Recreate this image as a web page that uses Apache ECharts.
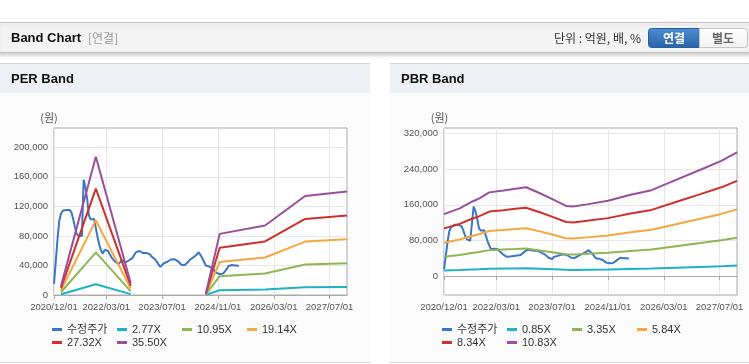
<!DOCTYPE html>
<html><head><meta charset="utf-8">
<script src="https://cdn.jsdelivr.net/npm/echarts@6/dist/echarts.min.js"></script>
<style>html,body{margin:0;padding:0;background:#fff}#c{width:749px;height:364px}</style>
</head><body><div id="c"></div>
<script>
const FONT = "'Liberation Sans','Noto Sans CJK KR',sans-serif";
const KFONT = "'Noto Sans CJK KR','Liberation Sans',sans-serif";

// x axis: semi-monthly categories from 2020/12 to 2027/12
const startYear = 2020, startMonth = 12, totalMonths = 84;
const tickLabels = ['2020/12/01','2022/03/01','2023/07/01','2024/11/01','2026/03/01','2027/07/01'];
const perTicks = [0, 40000, 80000, 120000, 160000, 200000];
const pbrTicks = [0, 80000, 160000, 240000, 320000];

const priceName = '수정주가';
const perNames = ['2.77X','10.95X','19.14X','27.32X','35.50X'];
const pbrNames = ['0.85X','3.35X','5.84X','8.34X','10.83X'];

// adjusted price, every half month from 2020/12/01
const price = [15000,45000,75000,100000,110000,114000,115000,115000,115000,115000,
 112000,103000,92000,83000,80000,79000,80000,156000,146000,130000,
 108000,102000,101000,103000,103000,78000,68000,60000,56000,61000,
 63000,60000,55000,51000,48000,45000,43000,42000,44000,47000,
 45000,44000,46000,47000,47000,50000,54000,58000,59000,59500,
 58000,57000,56500,57000,56500,55000,52000,50000,48000,45000,
 41000,38000,38000,43000,45000,45000,46000,48000,49000,48500,
 47000,46000,44000,41000,40000,40500,41000,45000,48000,49000,
 51000,53000,55000,58000,57000,50000,45000,40000,39000,38500,
 38000,36000,33000,30000,29000,28500,28000,29000,32000,35000,
 39000,41000,40500,40000,40000,40000,39500];

// PER band vertices (null = break)
const perBandDates = ['2021/02/01','2021/12/01','2022/10/01','2023/06/01','2024/07/16','2024/11/16','2025/12/16','2026/12/01','2027/12/01'];
const per277  = [900, 14600, 1200, null, 100, 6500, 7400, 10500, 10900];
const per1095 = [3700, 57700, 4900, null, 500, 25500, 29000, 41300, 43100];
const per1914 = [6500, 101000, 8600, null, 800, 44600, 50800, 72300, 75400];
const per2732 = [9300, 144000, 12300, null, 1200, 64000, 72500, 103000, 107600];
const per3550 = [12000, 187000, 16000, null, 1500, 82700, 94000, 134000, 140000];

// PBR band vertices
const pbrBandDates = ['2020/12/01','2021/04/16','2021/08/01','2021/10/01','2022/01/01','2022/05/01','2022/08/16','2022/11/16','2023/03/16','2023/07/16','2023/11/01','2024/01/01','2024/05/01','2024/11/01','2025/05/16','2025/11/16','2026/06/16','2027/01/16','2027/07/16','2027/12/01'];
const pbr085  = [12400,13400,14600,15200,16300,16600,16900,17200,16100,14900,13900,13700,14100,14800,15800,16700,18500,20300,21800,23300];
const pbr335  = [43000,47000,51700,53800,58100,59400,60600,61700,57500,52900,48700,48300,49800,52300,56400,59700,66800,73900,80100,86000];
const pbr584  = [74900,81900,90000,93800,101300,103500,105600,107500,100300,92200,84900,84100,86800,91100,98400,104000,116400,128800,139600,149800];
const pbr834  = [107000,117000,128600,134000,144800,147800,151000,153600,143200,131700,121300,120100,124000,130100,140500,148600,166300,184000,199400,214000];
const pbr1083 = [139000,152000,167000,174000,188000,192000,196000,199500,186000,171000,157500,156000,161000,169000,182500,193000,216000,239000,259000,278000];

const priceColor = '#3a76c6';
const bandColors = ['#1fb1c6','#8fb654','#f2a83c','#cf302c','#994f9d'];

const categories = [];
for (let m = 0; m <= totalMonths; m++) {
  const y = startYear + Math.floor((startMonth - 1 + m) / 12);
  const mo = (startMonth - 1 + m) % 12 + 1;
  const ym = y + '/' + String(mo).padStart(2, '0');
  categories.push(ym + '/01');
  if (m < totalMonths) categories.push(ym + '/16');
}
const isTick = (i, v) => tickLabels.indexOf(v) >= 0;

function xAxisOpt(gi) {
  return {
    type: 'category', gridIndex: gi, data: categories, boundaryGap: false,
    axisLine: { show: true, lineStyle: { color: '#aaaaaa' } },
    axisTick: { show: true, interval: isTick, length: 4, lineStyle: { color: '#aaaaaa' } },
    axisLabel: { interval: isTick, color: '#555', fontSize: 9.5, fontFamily: FONT, margin: 8 },
    splitLine: { show: true, interval: isTick, lineStyle: { color: '#e6e6e6' } }
  };
}
function yAxisOpt(gi, min, max, ticks) {
  return {
    type: 'value', gridIndex: gi, min: min, max: max,
    axisLine: { show: false },
    axisTick: { show: false, customValues: ticks },
    axisLabel: { customValues: ticks, color: '#555', fontSize: 9.5, fontFamily: FONT, margin: 6 },
    splitLine: { show: true, lineStyle: { color: '#e6e6e6' } }
  };
}

const series = [];
function addChart(gi, bands, names, dates) {
  series.push({ name: priceName, type: 'line', xAxisIndex: gi, yAxisIndex: gi, data: price,
    symbol: 'none', lineStyle: { width: 2, color: priceColor }, itemStyle: { color: priceColor } });
  bands.forEach((vals, k) => {
    series.push({ name: names[k], type: 'line', xAxisIndex: gi, yAxisIndex: gi,
      data: dates.map((d, i) => [d, vals[i]]),
      symbol: 'none', lineStyle: { width: 2, color: bandColors[k] }, itemStyle: { color: bandColors[k] } });
  });
}
addChart(0, [per277, per1095, per1914, per2732, per3550], perNames, perBandDates);
addChart(1, [pbr085, pbr335, pbr584, pbr834, pbr1083], pbrNames, pbrBandDates);

// one legend box per item, laid out in a 4-column grid
const legends = [];
function addLegends(left, names) {
  [priceName].concat(names).forEach((n, i) => {
    legends.push({
      left: left + (i % 4) * 65, top: 324 + Math.floor(i / 4) * 13, orient: 'horizontal',
      icon: 'rect', itemWidth: 10, itemHeight: 3, itemGap: 0, padding: 0,
      selectedMode: false,
      textStyle: { fontSize: 11, color: '#333', fontFamily: FONT },
      data: [n]
    });
  });
}
addLegends(52, perNames);
addLegends(442, pbrNames);

const graphic = [
  // header bar
  { type: 'rect', z: -10, shape: { x: -2, y: 22.5, width: 753, height: 30 },
    style: { fill: '#f4f4f4', stroke: '#c6c6c6', lineWidth: 1, shadowBlur: 4, shadowOffsetY: 2, shadowColor: 'rgba(0,0,0,0.18)' } },
  { type: 'text', z: 5, x: 11, y: 38, style: { text: 'Band Chart', font: "bold 13px 'Liberation Sans'", fill: '#111', verticalAlign: 'middle' } },
  { type: 'text', z: 5, x: 88, y: 38, style: { text: '[연결]', font: "12px " + KFONT, fill: '#999', verticalAlign: 'middle' } },
  { type: 'text', z: 5, x: 641, y: 38, style: { text: '단위 : 억원, 배, %', font: "12px " + KFONT, fill: '#333', align: 'right', verticalAlign: 'middle' } },
  { type: 'rect', z: 5, shape: { x: 648.5, y: 28.5, width: 51, height: 19, r: [3, 0, 0, 3] },
    style: { fill: new echarts.graphic.LinearGradient(0, 0, 0, 1, [{ offset: 0, color: '#4d8ed2' }, { offset: 1, color: '#2862a6' }]), stroke: '#2a5e9c', lineWidth: 1 } },
  { type: 'text', z: 6, x: 674, y: 38, style: { text: '연결', font: "bold 12px " + KFONT, fill: '#fff', align: 'center', verticalAlign: 'middle' } },
  { type: 'rect', z: 5, shape: { x: 699.5, y: 28.5, width: 48, height: 19, r: [0, 3, 3, 0] },
    style: { fill: new echarts.graphic.LinearGradient(0, 0, 0, 1, [{ offset: 0, color: '#ffffff' }, { offset: 1, color: '#f1f1f1' }]), stroke: '#c6c6c6', lineWidth: 1 } },
  { type: 'text', z: 6, x: 723, y: 38, style: { text: '별도', font: "bold 12px " + KFONT, fill: '#666', align: 'center', verticalAlign: 'middle' } },
  // panels
  { type: 'rect', z: -10, shape: { x: 0, y: 63, width: 370, height: 300 }, style: { fill: '#fbfbfb' } },
  { type: 'rect', z: -10, shape: { x: 390, y: 63, width: 359, height: 300 }, style: { fill: '#fbfbfb' } },
  { type: 'rect', z: -9, shape: { x: 0, y: 63.5, width: 370, height: 29.5 }, style: { fill: '#edf1f6' } },
  { type: 'rect', z: -9, shape: { x: 390, y: 63.5, width: 359, height: 29.5 }, style: { fill: '#edf1f6' } },
  { type: 'line', z: -8, shape: { x1: 0, y1: 63.5, x2: 370, y2: 63.5 }, style: { stroke: '#d4d4d4', lineWidth: 1 } },
  { type: 'line', z: -8, shape: { x1: 390, y1: 63.5, x2: 749, y2: 63.5 }, style: { stroke: '#d4d4d4', lineWidth: 1 } },
  { type: 'line', z: -8, shape: { x1: 0, y1: 362.5, x2: 370, y2: 362.5 }, style: { stroke: '#d4d4d4', lineWidth: 1 } },
  { type: 'line', z: -8, shape: { x1: 390, y1: 362.5, x2: 749, y2: 362.5 }, style: { stroke: '#d4d4d4', lineWidth: 1 } },
  { type: 'text', z: 5, x: 11, y: 79, style: { text: 'PER Band', font: "bold 13px 'Liberation Sans'", fill: '#111', verticalAlign: 'middle' } },
  { type: 'text', z: 5, x: 401, y: 79, style: { text: 'PBR Band', font: "bold 13px 'Liberation Sans'", fill: '#111', verticalAlign: 'middle' } },
  { type: 'text', z: 5, x: 49, y: 118, style: { text: '(원)', font: "11px " + KFONT, fill: '#555', align: 'center', verticalAlign: 'middle' } },
  { type: 'text', z: 5, x: 439.5, y: 118, style: { text: '(원)', font: "11px " + KFONT, fill: '#555', align: 'center', verticalAlign: 'middle' } }
];

const chart = echarts.init(document.getElementById('c'), null, { renderer: 'canvas' });
chart.setOption({
  animation: false,
  backgroundColor: '#ffffff',
  textStyle: { fontFamily: FONT },
  graphic: graphic,
  grid: [
    { left: 54, top: 128, width: 293, height: 167, show: true, borderColor: '#aaaaaa', borderWidth: 1, backgroundColor: '#ffffff', containLabel: false },
    { left: 444, top: 128, width: 293, height: 167, show: true, borderColor: '#aaaaaa', borderWidth: 1, backgroundColor: '#ffffff', containLabel: false }
  ],
  xAxis: [xAxisOpt(0), xAxisOpt(1)],
  yAxis: [yAxisOpt(0, 0, 226000, perTicks), yAxisOpt(1, -42800, 332800, pbrTicks)],
  legend: legends,
  series: series
});
</script>
</body></html>
